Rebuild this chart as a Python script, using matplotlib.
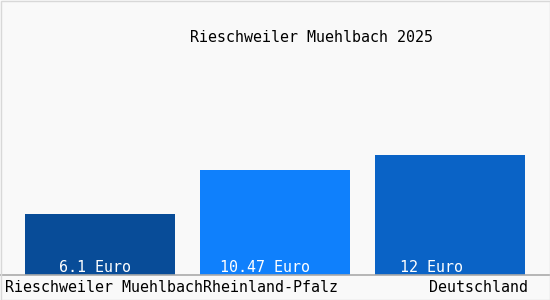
import matplotlib.pyplot as plt
from matplotlib.patches import Rectangle

# values in Euro
regions = ["Rieschweiler Muehlbach", "Rheinland-Pfalz", "Deutschland"]
values = [6.1, 10.47, 12]
value_labels = ["6.1 Euro", "10.47 Euro", "12 Euro"]
colors = ["#084c98", "#0f80fc", "#0a63c6"]
title = "Rieschweiler Muehlbach 2025"

W, H = 550, 300
fig = plt.figure(figsize=(W / 100, H / 100), dpi=100)
fig.patch.set_facecolor("#f9f9f9")
plt.rcParams["font.family"] = "DejaVu Sans Mono"

# axes: baseline at y=275 px, 10 px per Euro, bars centred every 175 px
bottom_px, top_px = 275, 55
ax = fig.add_axes([0, 1 - bottom_px / H, 1, (bottom_px - top_px) / H])
ax.set_facecolor("#f9f9f9")
ax.set_xlim(-100 / 175, 450 / 175)
ax.set_ylim(0, (bottom_px - top_px) / 10)

bar_w = 150 / 175
x = range(len(values))
ax.bar(x, values, width=bar_w, color=colors)
# value labels start a little way in from each bar's left edge
label_pad = [34 / 175, 20 / 175, 25 / 175]
for xi, lab, pad in zip(x, value_labels, label_pad):
    ax.text(xi - bar_w / 2 + pad, 0.7, lab, color="white",
            ha="left", va="center", fontsize=10.8)

for s in ["top", "left", "right"]:
    ax.spines[s].set_visible(False)
ax.spines["bottom"].set_color("#aaaaaa")
ax.spines["bottom"].set_linewidth(1.2)
ax.set_xticks([])
ax.set_yticks([])

# category labels below the baseline
fig.text(5 / W, 1 - 288 / H, regions[0], ha="left", va="center", fontsize=10.8)
fig.text(203 / W, 1 - 288 / H, regions[1], ha="left", va="center", fontsize=10.8)
fig.text(528 / W, 1 - 288 / H, regions[2], ha="right", va="center", fontsize=10.8)

fig.text(311 / W, 1 - 38 / H, title, ha="center", va="center", fontsize=10.8)

# light frame round the picture
fig.patches.append(Rectangle((0.5 / W, 0.5 / H), 1 - 1 / W, 1 - 1 / H,
                             transform=fig.transFigure, fill=False,
                             edgecolor="#d8d8d8", linewidth=1))

fig.savefig("out.png", dpi=100, facecolor=fig.get_facecolor())
